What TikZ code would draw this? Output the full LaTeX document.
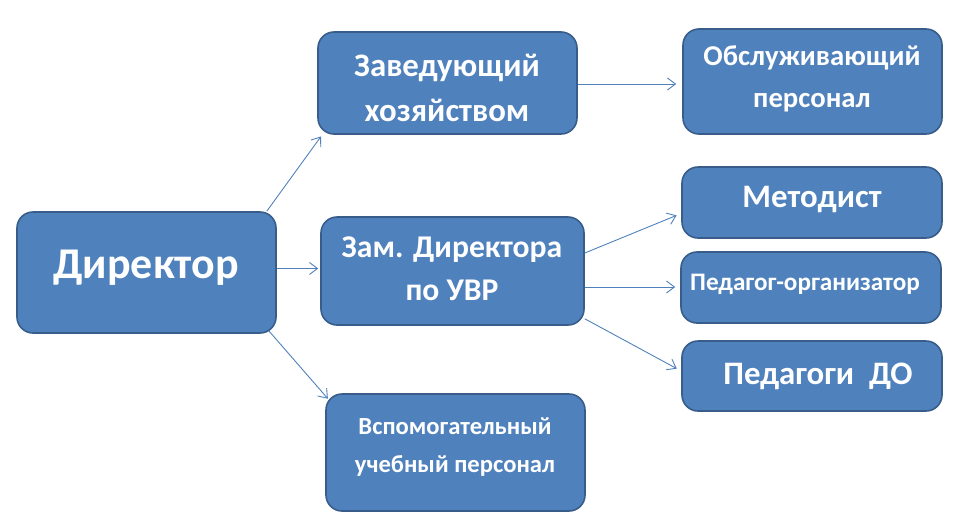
\documentclass[tikz,border=0pt]{standalone}
\usepackage{fontspec}
\setmainfont{Carlito}
\usetikzlibrary{arrows.meta, calc}
\newlength{\pu}\setlength{\pu}{0.03cm}
\definecolor{boxfill}{HTML}{4F81BD}
\definecolor{boxline}{HTML}{385D8A}
\tikzset{
  box/.style={draw=boxline, fill=boxfill, line width=1.6\pu, rounded corners=16\pu, inner sep=0pt},
  txt/.style={text=white, font=\bfseries, align=center, inner sep=0pt},
  link/.style={draw=boxfill, line width=0.9\pu, -{Straight Barb[length=2.4mm,width=3.6mm]}, shorten >=2\pu}
}
\begin{document}
\begin{tikzpicture}[x=1\pu, y=-1\pu]
  \useasboundingbox (0,0) rectangle (967,526);
  % boxes
  \node[box, minimum width=259\pu, minimum height=121\pu] (dir) at (146.5,272.5) {};
  \node[box, minimum width=259\pu, minimum height=102\pu] (zav) at (447.5,83) {};
  \node[box, minimum width=259\pu, minimum height=105\pu] (obs) at (812.5,81.5) {};
  \node[box, minimum width=263\pu, minimum height=108\pu] (zam) at (452.5,271) {};
  \node[box, minimum width=260\pu, minimum height=71\pu] (met) at (812,202.5) {};
  \node[box, minimum width=260\pu, minimum height=71\pu] (ped) at (811,287.5) {};
  \node[box, minimum width=260\pu, minimum height=70\pu] (pdo) at (812,376) {};
  \node[box, minimum width=259\pu, minimum height=117\pu] (vsp) at (455.5,452.5) {};

  % texts
  \node[txt, font=\bfseries\fontsize{37.5}{44}\selectfont] (dir-t) at (146,268) {Директор};
  \node[txt, font=\bfseries\fontsize{28}{38}\selectfont] (zav-t) at (447,88) {Заведующий\\хозяйством};
  \node[txt, font=\bfseries\fontsize{24.5}{36}\selectfont] (obs-t) at (812,79) {Обслуживающий\\персонал};
  \node[txt, font=\bfseries\fontsize{27}{37}\selectfont] (zam-t) at (452,269) {Зам. Директора\\по УВР};
  \node[txt, font=\bfseries\fontsize{28}{34}\selectfont] (met-t) at (812,200) {Методист};
  \node[txt, font=\bfseries\fontsize{21.5}{24}\selectfont] (ped-t) at (805,284) {Педагог-организатор};
  \node[txt, font=\bfseries\fontsize{28}{34}\selectfont] (pdo-t) at (818,376) {Педагоги~~ДО};
  \node[txt, font=\bfseries\fontsize{21}{32}\selectfont] (vsp-t) at (455,447) {Вспомогательный\\учебный персонал};

  % connectors
  \draw[link] ($(dir.north east)+(-10,0)$) -- ($(zav.south west)+(5,0)$);
  \draw[link] ($(dir.east)+(0,-4)$) -- ($(dir.east -| zam.west)+(0,-4)$);
  \draw[link] ($(dir.south east)+(-8,-3)$) -- ($(vsp.north west)+(4,7)$);
  \draw[link, shorten >=6\pu] ($(zav.east)+(0,1)$) -- ($(zav.east -| obs.west)+(0,1)$);
  \draw[link, shorten >=5\pu] ($(zam.east)+(0,-18)$) -- ($(met.west)+(0,11)$);
  \draw[link, shorten >=5\pu] ($(zam.east)+(0,16)$) -- ($(zam.east -| ped.west)+(0,16)$);
  \draw[link, shorten >=5\pu] ($(zam.south east)+(0,-7)$) -- ($(pdo.west)+(0,-5)$);
\end{tikzpicture}
\end{document}
